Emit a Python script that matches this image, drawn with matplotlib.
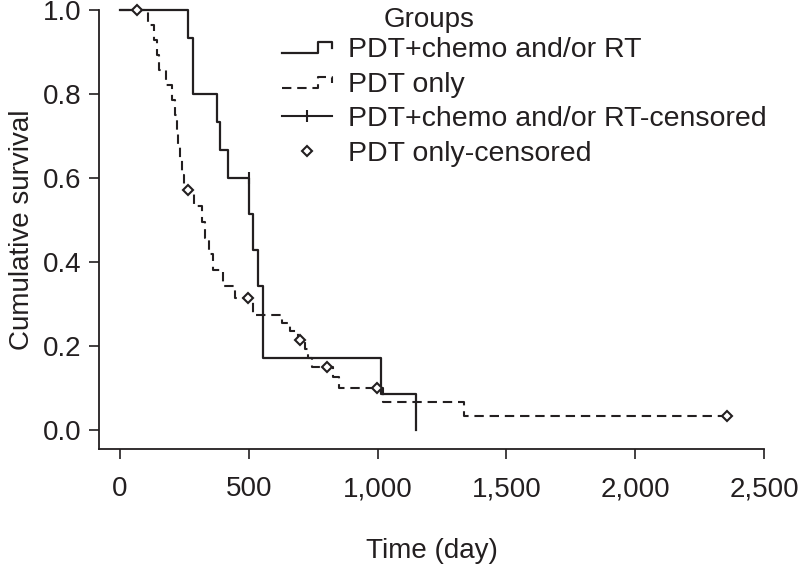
import matplotlib
matplotlib.use("Agg")
import matplotlib.pyplot as plt
from matplotlib.lines import Line2D
from matplotlib.legend_handler import HandlerBase

# Kaplan-Meier steps (time in days, survival after the step)
combo_times = [0, 263, 282, 375, 390, 421, 502, 515, 537, 556, 1015, 1150]
combo_surv = [1.0, 0.933, 0.8, 0.733, 0.667, 0.6, 0.514, 0.429, 0.343, 0.171, 0.086, 0.0]
combo_cens_t = [500]
combo_cens_s = [0.6]

pdt_times = [0, 110, 132, 142, 150, 177, 203, 212, 220, 227, 234, 242, 250, 258,
             287, 317, 331, 346, 360, 401, 446, 517, 627, 660, 690, 720, 731, 745,
             828, 851, 1022, 1335, 2355]
pdt_surv = [1.0, 0.964, 0.929, 0.893, 0.857, 0.821, 0.786, 0.75, 0.714, 0.679, 0.643, 0.607, 0.571, 0.571,
            0.533, 0.495, 0.457, 0.419, 0.381, 0.343, 0.314, 0.275, 0.255, 0.235, 0.214, 0.193, 0.171, 0.151,
            0.126, 0.101, 0.068, 0.034, 0.034]
pdt_cens_t = [66, 263, 498, 699, 805, 999, 2355]
pdt_cens_s = [1.0, 0.571, 0.314, 0.214, 0.151, 0.101, 0.034]

xticks = [0, 500, 1000, 1500, 2000, 2500]
xtick_labels = ["0", "500", "1,000", "1,500", "2,000", "2,500"]
yticks = [0.0, 0.2, 0.4, 0.6, 0.8, 1.0]

INK = "#231f20"
FS = 20
plt.rcParams["font.family"] = ["Liberation Sans", "DejaVu Sans"]


class StepHandler(HandlerBase):
    """Legend handle drawn as a little survival step."""
    def create_artists(self, legend, orig_handle, xdescent, ydescent, width, height, fontsize, trans):
        x0, y0 = -xdescent, -ydescent
        xs = [x0, x0 + 0.72 * width, x0 + 0.72 * width, x0 + width, x0 + width]
        ys = [y0 + 0.2 * height, y0 + 0.2 * height, y0 + 0.75 * height, y0 + 0.75 * height, y0 + 0.45 * height]
        line = Line2D(xs, ys)
        line.update_from(orig_handle)
        line.set_marker("None")
        line.set_transform(trans)
        return [line]


fig = plt.figure(figsize=(7.99, 5.73), dpi=100)
ax = fig.add_axes([99 / 799, 1 - 449 / 573, 665 / 799, 439 / 573])

ax.step(combo_times, combo_surv, where="post", color=INK, lw=1.6, clip_on=False)
ax.step(pdt_times, pdt_surv, where="post", color=INK, lw=1.5,
        linestyle=(0, (4.5, 2.8)), clip_on=False)
ax.plot(combo_cens_t, combo_cens_s, linestyle="None", marker="|", ms=8, mew=1.5,
        color=INK, clip_on=False)
ax.plot(pdt_cens_t, pdt_cens_s, linestyle="None", marker="D", ms=5.5, mew=1.5,
        mfc="white", mec=INK, clip_on=False)

ax.set_xlim(-81.5, 2500)
ax.set_ylim(-0.045, 1.0)
ax.set_xticks(xticks)
ax.set_xticklabels(xtick_labels)
ax.set_yticks(yticks)
ax.set_yticklabels([f"{v:.1f}" for v in yticks])

for side in ["top", "right"]:
    ax.spines[side].set_visible(False)
for side in ["left", "bottom"]:
    ax.spines[side].set_linewidth(1.3)
    ax.spines[side].set_color(INK)
ax.tick_params(direction="out", length=7.5, width=1.2, color=INK, labelcolor=INK, labelsize=FS)
ax.tick_params(axis="x", pad=12)
ax.tick_params(axis="y", pad=5)

ax.set_xlabel("Time (day)", fontsize=FS, color=INK, labelpad=26)
ax.set_ylabel("Cumulative survival", fontsize=FS, color=INK, labelpad=6)

# legend entries: step handles for curves, plus the two censor markers
leg_combo = Line2D([], [], color=INK, lw=1.6)
leg_pdt = Line2D([], [], color=INK, lw=1.5, linestyle=(0, (4.5, 2.8)))
leg_cens_combo = Line2D([], [], color=INK, lw=1.5, marker="|", ms=8, mew=1.5)
leg_cens_pdt = Line2D([], [], linestyle="None", marker="D", ms=5.5, mew=1.5, mfc="white", mec=INK)
fig.legend([leg_combo, leg_pdt, leg_cens_combo, leg_cens_pdt],
           ["PDT+chemo and/or RT", "PDT only", "PDT+chemo and/or RT-censored", "PDT only-censored"],
           handler_map={leg_combo: StepHandler(), leg_pdt: StepHandler()},
           loc="upper left", bbox_to_anchor=(282 / 799, 1 - 37 / 573), frameon=False,
           fontsize=20.5, handlelength=1.75, handletextpad=0.56, labelspacing=0.3,
           borderpad=0, borderaxespad=0, labelcolor=INK)
fig.text(429 / 799, 1 - 20 / 573, "Groups", ha="center", va="center", fontsize=FS, color=INK)

fig.savefig("out.png", dpi=100, facecolor="white")
